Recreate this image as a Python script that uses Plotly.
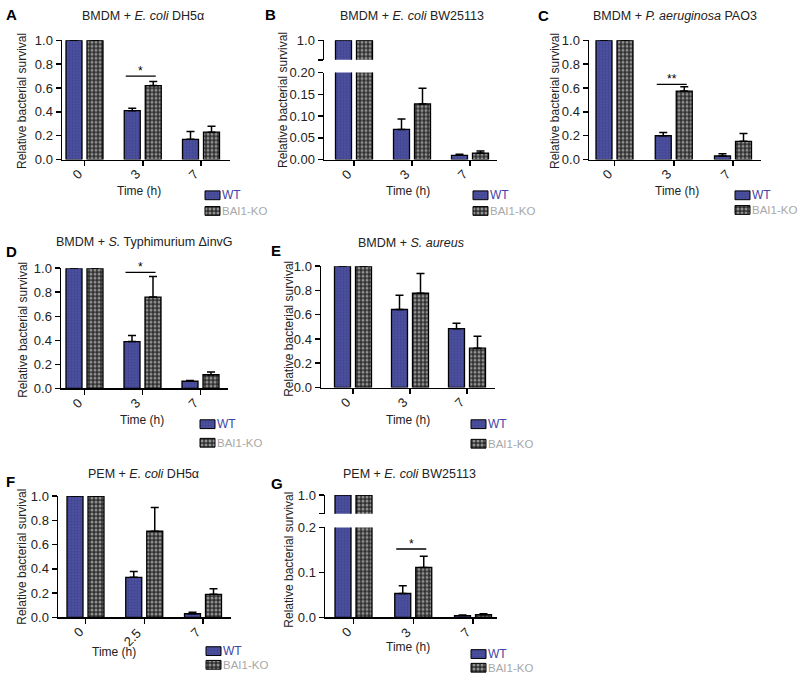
import plotly.graph_objects as go

W, H = 800, 687

# ---------------- data ----------------
panel_ids = ["A", "B", "C", "D", "E", "F", "G"]

title_A = "BMDM + <i>E. coli</i> DH5α"
title_B = "BMDM + <i>E. coli</i> BW25113"
title_C = "BMDM + <i>P. aeruginosa</i> PAO3"
title_D = "BMDM + <i>S.</i> Typhimurium ΔinvG"
title_E = "BMDM + <i>S. aureus</i>"
title_F = "PEM + <i>E. coli</i> DH5α"
title_G = "PEM + <i>E. coli</i> BW25113"

time_A = ["0", "3", "7"]
time_B = ["0", "3", "7"]
time_C = ["0", "3", "7"]
time_D = ["0", "3", "7"]
time_E = ["0", "3", "7"]
time_F = ["0", "2.5", "7"]
time_G = ["0", "3", "7"]

wt_A = [1.0, 0.41, 0.17]
wt_err_A = [None, 0.02, 0.065]
ko_A = [1.0, 0.62, 0.23]
ko_err_A = [None, 0.035, 0.05]

wt_B = [1.0, 0.0694, 0.0097]
wt_err_B = [None, 0.024, 0.0025]
ko_B = [1.0, 0.128, 0.015]
ko_err_B = [None, 0.036, 0.005]

wt_C = [1.0, 0.20, 0.03]
wt_err_C = [None, 0.027, 0.019]
ko_C = [1.0, 0.574, 0.153]
ko_err_C = [None, 0.036, 0.066]

wt_D = [1.0, 0.39, 0.06]
wt_err_D = [None, 0.05, 0.006]
ko_D = [1.0, 0.76, 0.114]
ko_err_D = [None, 0.17, 0.022]

wt_E = [1.0, 0.643, 0.485]
wt_err_E = [None, 0.117, 0.045]
ko_E = [1.0, 0.777, 0.324]
ko_err_E = [None, 0.163, 0.099]

wt_F = [1.0, 0.33, 0.03]
wt_err_F = [None, 0.048, 0.013]
ko_F = [1.0, 0.71, 0.19]
ko_err_F = [None, 0.196, 0.046]

wt_G = [1.0, 0.053, 0.004]
wt_err_G = [None, 0.017, 0.001]
ko_G = [1.0, 0.111, 0.006]
ko_err_G = [None, 0.025, 0.002]

# significance marks: (time index, bracket height, label)
sig_A = [(1, 0.70, "*")]
sig_B = []
sig_C = [(1, 0.63, "**")]
sig_D = [(1, 0.965, "*")]
sig_E = []
sig_F = []
sig_G = [(1, 0.152, "*")]

series_names = ["WT", "BAI1-KO"]

yticks_std = [0.0, 0.2, 0.4, 0.6, 0.8, 1.0]
yticks_B = [0.0, 0.05, 0.10, 0.15, 0.20]
yticks_G = [0.0, 0.1, 0.2]

data = {
    "A": (title_A, time_A, wt_A, wt_err_A, ko_A, ko_err_A, sig_A),
    "B": (title_B, time_B, wt_B, wt_err_B, ko_B, ko_err_B, sig_B),
    "C": (title_C, time_C, wt_C, wt_err_C, ko_C, ko_err_C, sig_C),
    "D": (title_D, time_D, wt_D, wt_err_D, ko_D, ko_err_D, sig_D),
    "E": (title_E, time_E, wt_E, wt_err_E, ko_E, ko_err_E, sig_E),
    "F": (title_F, time_F, wt_F, wt_err_F, ko_F, ko_err_F, sig_F),
    "G": (title_G, time_G, wt_G, wt_err_G, ko_G, ko_err_G, sig_G),
}

# ---------------- layout geometry (pixels) ----------------
geo = {
    "A": dict(x=(62, 230), y=(34, 156), up=None, c=(84.5, 201), ticks=yticks_std, fmt=".1f",
              ymax=1.0, letter=(4, 8), title=(143, 9), ytitle=(22, 96), xtitle=(139, 188),
              leg=(205, 188, 204)),
    "B": dict(x=(324, 497), y=(67, 156), up=(34, 54), c=(354, 470), ticks=yticks_B, fmt=".2f",
              ymax=0.20, letter=(263, 8), title=(412, 9), ytitle=(283, 95), xtitle=(408, 188),
              leg=(473, 188, 204)),
    "C": dict(x=(589, 761), y=(34, 156), up=None, c=(614.5, 733), ticks=yticks_std, fmt=".1f",
              ymax=1.0, letter=(536, 9), title=(675, 9), ytitle=(555, 96), xtitle=(677, 188),
              leg=(735, 188, 203)),
    "D": dict(x=(61, 228), y=(267, 390), up=None, c=(84.5, 200.5), ticks=yticks_std, fmt=".1f",
              ymax=1.0, letter=(4, 250), title=(144, 240), ytitle=(23, 330), xtitle=(142, 422),
              leg=(200, 422, 441)),
    "E": dict(x=(321, 495), y=(265, 389), up=None, c=(353, 467), ticks=yticks_std, fmt=".1f",
              ymax=1.0, letter=(269, 249), title=(411, 241), ytitle=(289, 329), xtitle=(408, 422),
              leg=(471, 422, 442)),
    "F": dict(x=(58, 231), y=(500, 624), up=None, c=(85.5, 203), ticks=yticks_std, fmt=".1f",
              ymax=1.0, letter=(4, 485), title=(143, 477), ytitle=(22, 562), xtitle=(114, 659),
              leg=(206, 654, 668)),
    "G": dict(x=(325, 497), y=(532, 624), up=(499, 518), c=(353.5, 473), ticks=yticks_G, fmt=".1f",
              ymax=0.2, letter=(269, 487), title=(410, 477), ytitle=(289, 565), xtitle=(408, 654),
              leg=(471, 657, 671)),
}

BAR_PX = 16
WT_OFF_PX = -18.5
KO_OFF_PX = 2.5
FONT = "Arial, Liberation Sans, Helvetica, sans-serif"
WT_COLOR = "#4b4f9f"
WT_TEXT = "#3f45a8"
KO_TEXT = "#a8a8a8"
TXT = "#222222"

wt_marker = dict(color=WT_COLOR, line=dict(color="black", width=1.3),
                 pattern=dict(shape=".", bgcolor=WT_COLOR, fgcolor="#34377a", size=3, solidity=0.3))
ko_marker = dict(color="#2f2f2f", line=dict(color="black", width=1.3),
                 pattern=dict(shape=".", bgcolor="#2f2f2f", fgcolor="#f2f2f2", size=4, solidity=0.45))


def fx(px):
    return px / W


def fy(py):
    return 1 - py / H


fig = go.Figure()
lay = {}
annotations = []
shapes = []

axis_common = dict(showline=True, linecolor="black", linewidth=1.5, ticks="outside",
                   ticklen=5, tickwidth=1.5, tickcolor="black", showgrid=False, zeroline=False,
                   tickfont=dict(family=FONT, size=13, color=TXT), fixedrange=True)

yn = 0
for i, pid in enumerate(panel_ids):
    title, times, wt, wt_err, ko, ko_err, sig = data[pid]
    g = geo[pid]
    xi = i + 1
    xname = "x" if xi == 1 else f"x{xi}"
    xkey = "xaxis" if xi == 1 else f"xaxis{xi}"
    s = (g["c"][1] - g["c"][0]) / 2.0
    xr = [(g["x"][0] - g["c"][0]) / s, (g["x"][1] - g["c"][0]) / s]

    yn += 1
    ylo = "y" if yn == 1 else f"y{yn}"
    ylokey = "yaxis" if yn == 1 else f"yaxis{yn}"

    lay[xkey] = dict(axis_common, domain=[fx(g["x"][0]), fx(g["x"][1])], range=xr, anchor=ylo,
                     tickvals=list(range(len(times))), ticktext=times, showticklabels=False)
    lay[ylokey] = dict(axis_common, domain=[fy(g["y"][1]), fy(g["y"][0])], range=[0, g["ymax"]],
                       anchor=xname, tickvals=g["ticks"],
                       ticktext=[format(v, g["fmt"]) for v in g["ticks"]])

    xs = list(range(len(times)))
    common = dict(x=xs, width=BAR_PX / s, xaxis=xname, showlegend=False, hoverinfo="skip")
    fig.add_trace(go.Bar(y=wt, offset=WT_OFF_PX / s, marker=wt_marker, yaxis=ylo, name=series_names[0],
                         error_y=dict(type="data", array=wt_err, arrayminus=[0] * len(wt), symmetric=False,
                                      color="black", thickness=1.5, width=4), **common))
    fig.add_trace(go.Bar(y=ko, offset=KO_OFF_PX / s, marker=ko_marker, yaxis=ylo, name=series_names[1],
                         error_y=dict(type="data", array=ko_err, arrayminus=[0] * len(ko), symmetric=False,
                                      color="black", thickness=1.5, width=4), **common))

    if g["up"] is not None:
        yn += 1
        yup = f"y{yn}"
        lay[f"yaxis{yn}"] = dict(axis_common, domain=[fy(g["up"][1]), fy(g["up"][0])], range=[0.9, 1.0],
                                 anchor=xname, tickvals=[0.9, 1.0], ticktext=["", "1.0"])
        fig.add_trace(go.Bar(y=wt, offset=WT_OFF_PX / s, marker=wt_marker, yaxis=yup, name=series_names[0],
                             **common))
        fig.add_trace(go.Bar(y=ko, offset=KO_OFF_PX / s, marker=ko_marker, yaxis=yup, name=series_names[1],
                             **common))

    # rotated category labels under the x axis
    axis_py = g["y"][1]
    for k, lab in enumerate(times):
        L = 6.7 * len(lab)
        cpx = g["c"][0] + k * s
        annotations.append(dict(xref="paper", yref="paper",
                                x=fx(cpx - 5 - 0.3536 * L), y=fy(axis_py + 13 + 0.3536 * L),
                                text=lab, textangle=-45, showarrow=False, xanchor="center",
                                yanchor="middle", font=dict(family=FONT, size=13, color=TXT)))

    # significance brackets
    for (ti, yv, lab) in sig:
        shapes.append(dict(type="line", xref=xname, yref=ylo, x0=ti - 17 / s, x1=ti + 13 / s,
                           y0=yv, y1=yv, line=dict(color="black", width=1.3)))
        annotations.append(dict(xref=xname, yref=ylo, x=ti - 2 / s, y=yv, text=lab, showarrow=False,
                                yanchor="bottom", yshift=-4, font=dict(family=FONT, size=12, color="black")))

    # texts
    annotations.append(dict(xref="paper", yref="paper", x=fx(g["letter"][0]), y=fy(g["letter"][1]),
                            text=f"<b>{pid}</b>", showarrow=False, xanchor="left", yanchor="middle",
                            font=dict(family=FONT, size=15, color="black")))
    annotations.append(dict(xref="paper", yref="paper", x=fx(g["title"][0]), y=fy(g["title"][1]),
                            text=title, showarrow=False, xanchor="center", yanchor="middle",
                            font=dict(family=FONT, size=12.5, color=TXT)))
    annotations.append(dict(xref="paper", yref="paper", x=fx(g["ytitle"][0]), y=fy(g["ytitle"][1]),
                            text="Relative bacterial survival", showarrow=False, textangle=-90,
                            xanchor="center", yanchor="middle",
                            font=dict(family=FONT, size=12, color=TXT)))
    annotations.append(dict(xref="paper", yref="paper", x=fx(g["xtitle"][0]), y=fy(g["xtitle"][1]),
                            text="Time (h)", showarrow=False, xanchor="center", yanchor="middle",
                            font=dict(family=FONT, size=12, color=TXT)))
    lx, ly1, ly2 = g["leg"]
    annotations.append(dict(xref="paper", yref="paper", x=fx(lx + 16), y=fy(ly1 + 4.5),
                            text=series_names[0], showarrow=False, xanchor="left", yanchor="middle",
                            borderpad=0, font=dict(family=FONT, size=12, color=WT_TEXT)))
    annotations.append(dict(xref="paper", yref="paper", x=fx(lx + 16), y=fy(ly2 + 4.5),
                            text=series_names[1], showarrow=False, xanchor="left", yanchor="middle",
                            borderpad=0, font=dict(family=FONT, size=11.5, color=KO_TEXT)))

# legend swatches on a full-figure pixel canvas
cx = len(panel_ids) + 1
yn += 1
lay[f"xaxis{cx}"] = dict(domain=[0, 1], range=[0, W], visible=False, fixedrange=True, anchor=f"y{yn}")
lay[f"yaxis{yn}"] = dict(domain=[0, 1], range=[H, 0], visible=False, fixedrange=True, anchor=f"x{cx}")
sw_x = [geo[p]["leg"][0] + 7.5 for p in panel_ids]
fig.add_trace(go.Bar(x=sw_x, base=[geo[p]["leg"][1] for p in panel_ids], y=[9] * len(panel_ids),
                     width=15, marker=dict(wt_marker, line=dict(color="black", width=1)),
                     xaxis=f"x{cx}", yaxis=f"y{yn}", showlegend=False, hoverinfo="skip"))
fig.add_trace(go.Bar(x=sw_x, base=[geo[p]["leg"][2] for p in panel_ids], y=[9] * len(panel_ids),
                     width=15, marker=dict(ko_marker, line=dict(color="black", width=1)),
                     xaxis=f"x{cx}", yaxis=f"y{yn}", showlegend=False, hoverinfo="skip"))

fig.update_layout(
    width=W, height=H, margin=dict(l=0, r=0, t=0, b=0),
    paper_bgcolor="white", plot_bgcolor="rgba(0,0,0,0)",
    barmode="overlay", showlegend=False,
    font=dict(family=FONT, size=12, color=TXT),
    annotations=annotations, shapes=shapes, **lay,
)

fig.write_html("out.html", config={"displayModeBar": False, "staticPlot": True},
               post_script="document.body.style.margin='0';document.body.style.overflow='hidden';")
